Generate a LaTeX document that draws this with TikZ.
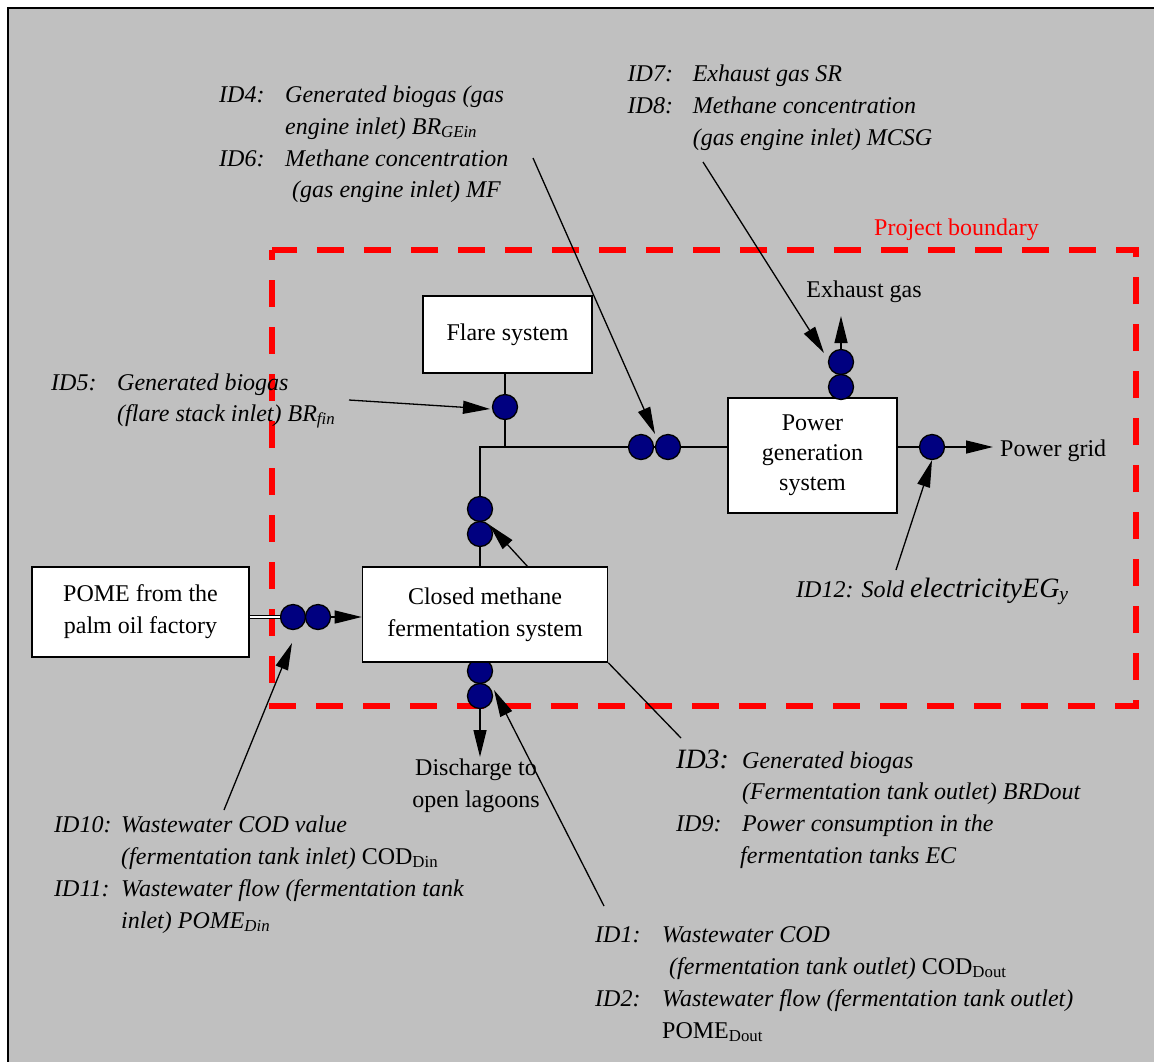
\documentclass[tikz,border=0pt]{standalone}
\usepackage{fontspec}
\setmainfont{Liberation Serif}
\usetikzlibrary{arrows.meta,calc}
\definecolor{bgc}{HTML}{C0C0C0}
\definecolor{meter}{HTML}{000080}
\definecolor{bound}{HTML}{FF0000}
\begin{document}
\begin{tikzpicture}[x=1pt,y=-1pt,
  box/.style={draw, fill=white, line width=1.6pt, inner sep=0pt, align=center, font=\fontsize{24}{32}\selectfont},
  meterc/.style={circle, draw, fill=meter, line width=1.3pt, minimum size=25pt, inner sep=0pt},
  flow/.style={line width=1.3pt},
  arr/.style={line width=1.3pt, -{Triangle[length=27pt,width=13pt]}},
  lbl/.style={inner sep=0pt, anchor=base west, font=\fontsize{24}{32}\selectfont\itshape},
  txt/.style={inner sep=0pt, font=\fontsize{24}{32}\selectfont}
]
\useasboundingbox (0,0) rectangle (1154,1061);
\clip (0,0) rectangle (1154,1061);
\fill[white] (0,0) rectangle (1154,1061);
\draw[fill=bgc, line width=2.4pt] (8,8) rectangle (1180,1090);

% project boundary
\draw[bound, line width=6pt, dash pattern=on 27pt off 20pt, dash phase=17pt] (272,250) rectangle (1136,706);
\node[txt, text=bound, anchor=base west] (pb) at (874,235) {Project boundary};

% coordinates of the pipe network
\coordinate (J) at (505,447);
\coordinate (K) at (480,447);

% boxes (positions only, drawn later)
\path node[box, minimum width=169pt, minimum height=77pt] (flare) at (507.5,334.5) {Flare system};
\path node[box, minimum width=169pt, minimum height=115pt, font=\fontsize{24}{30}\selectfont] (power) at (812.5,455.5) {Power\\generation\\system};

% meters
\node[meterc] (c1) at (505,407) {};
\node[meterc] (c2) at (641,447) {};
\node[meterc] (c3) at (668,447) {};
\node[meterc] (c4) at (480,509) {};
\node[meterc] (c5) at (480,534) {};
\node[meterc] (c6) at (480,671) {};
\node[meterc] (c7) at (480,696) {};
\node[meterc] (c8) at (841,362) {};
\node[meterc] (c9) at (841,387) {};
\node[meterc] (c10) at (932,447) {};
\node[meterc] (c11) at (293,617) {};
\node[meterc] (c12) at (318,617) {};

\node[box, minimum width=245pt, minimum height=95pt] (closed) at (485,614.5) {Closed methane\\fermentation system};
\node[box, minimum width=217pt, minimum height=90pt] (pome) at (140.5,612) {POME from the\\palm oil factory};

% pipes
\draw[flow] (flare.south -| J) -- (c1.north);
\draw[flow] (c1.south) -- (J);
\draw[flow] (closed.north -| K) -- (c5.south);
\draw[flow] (c4.north) -- (K) -- (c2.west);
\draw[flow] (c2.east) -- (c3.west);
\draw[flow] (c3.east) -- (power.west |- K);
\draw[flow] (power.east |- c10) -- (c10.west);
\draw[double, double distance=2.2pt, line width=0.9pt] (pome.east |- c11) -- (c11.west);
\draw[arr] (c12.east) -- (closed.west |- c12);

% outputs
\node[txt, anchor=base] (exh) at (864,297) {Exhaust gas};
\coordinate (exhend) at (841,316);
\draw[arr] (c8.north) -- (exhend);
\node[txt, anchor=base west] (grid) at (1000,456) {Power grid};
\coordinate (gridend) at (993,447);
\draw[arr] (c10.east) -- (gridend);
\node[txt, anchor=base] (dis1) at (476,775) {Discharge to};
\node[txt, anchor=base] (dis2) at (476,807) {open lagoons};
\coordinate (disend) at (480,757);
\draw[arr] (c7.south) -- (disend);

% annotation labels
\node[lbl] (id4) at (219,102) {ID4:};
\node[lbl] (id4a) at (285,102) {Generated biogas (gas};
\node[lbl] (id4b) at (285,134) {engine inlet) BR\textsubscript{GEin}};
\node[lbl] (id6) at (219,166) {ID6:};
\node[lbl] (id6a) at (285,166) {Methane concentration};
\node[lbl] (id6b) at (292,197) {(gas engine inlet) MF};

\node[lbl] (id7) at (627.5,81) {ID7:};
\node[lbl] (id7a) at (692.6,81) {Exhaust gas SR};
\node[lbl] (id8) at (627.5,113) {ID8:};
\node[lbl] (id8a) at (692.6,113) {Methane concentration};
\node[lbl] (id8b) at (692.6,145) {(gas engine inlet) MCSG};

\node[lbl] (id5) at (51,390) {ID5:};
\node[lbl] (id5a) at (117,390) {Generated biogas};
\node[lbl] (id5b) at (117,421) {(flare stack inlet) BR\textsubscript{fin}};

\node[lbl, font=\fontsize{28}{32}\selectfont\itshape] (id3) at (676,768) {ID3:};
\node[lbl] (id3a) at (742,768) {Generated biogas};
\node[lbl] (id3b) at (742,799) {(Fermentation tank outlet) BRDout};
\node[lbl] (id9) at (676,831) {ID9:};
\node[lbl] (id9a) at (742,831) {Power consumption in the};
\node[lbl] (id9b) at (740,863) {fermentation tanks EC};

\begin{scope}
\clip (0,0) rectangle (1154,1041);
\node[lbl] (id1) at (595,942) {ID1:};
\node[lbl] (id1a) at (662,942) {Wastewater COD};
\node[lbl] (id1b) at (669,974) {(fermentation tank outlet) {\upshape COD\textsubscript{Dout}}};
\node[lbl] (id2) at (595,1006) {ID2:};
\node[lbl] (id2a) at (662,1006) {Wastewater flow (fermentation tank outlet)};
\node[lbl] (id2b) at (662,1038) {\upshape POME\textsubscript{Dout}};
\end{scope}

\node[lbl] (id10) at (54,832) {ID10:};
\node[lbl] (id10a) at (121,832) {Wastewater COD value};
\node[lbl] (id10b) at (121,864) {(fermentation tank inlet) {\upshape COD\textsubscript{Din}}};
\node[lbl] (id11) at (54,896) {ID11:};
\node[lbl] (id11a) at (121,896) {Wastewater flow (fermentation tank};
\node[lbl] (id11b) at (121,928) {inlet) POME\textsubscript{Din}};

\node[lbl] (id12) at (796,597) {ID12: Sold {\fontsize{28}{32}\selectfont electricityEG\textsubscript{y}}};

% annotation connectors
\coordinate (s4) at (533,158);
\coordinate (t4) at (655,434);
\draw[arr] (s4) -- (t4);
\coordinate (s7) at (703,162);
\coordinate (t7) at (824,353);
\draw[arr] (s7) -- (t7);
\coordinate (s5) at (349,400);
\coordinate (t5) at (490,409);
\draw[arr] (s5) -- (t5);
\coordinate (o1) at (528,567);
\draw[arr] (o1) -- (c5.north east);
\coordinate (s3) at (681,738);
\draw[flow] (closed.south east) -- (s3);
\coordinate (s1) at (604,906);
\coordinate (t1) at (494,690);
\draw[arr] (s1) -- (t1);
\coordinate (s10) at (224,810);
\coordinate (t10) at (292,643);
\draw[arr] (s10) -- (t10);
\coordinate (s12) at (896,570);
\draw[arr] (s12) -- (c10.south);
\end{tikzpicture}
\end{document}
